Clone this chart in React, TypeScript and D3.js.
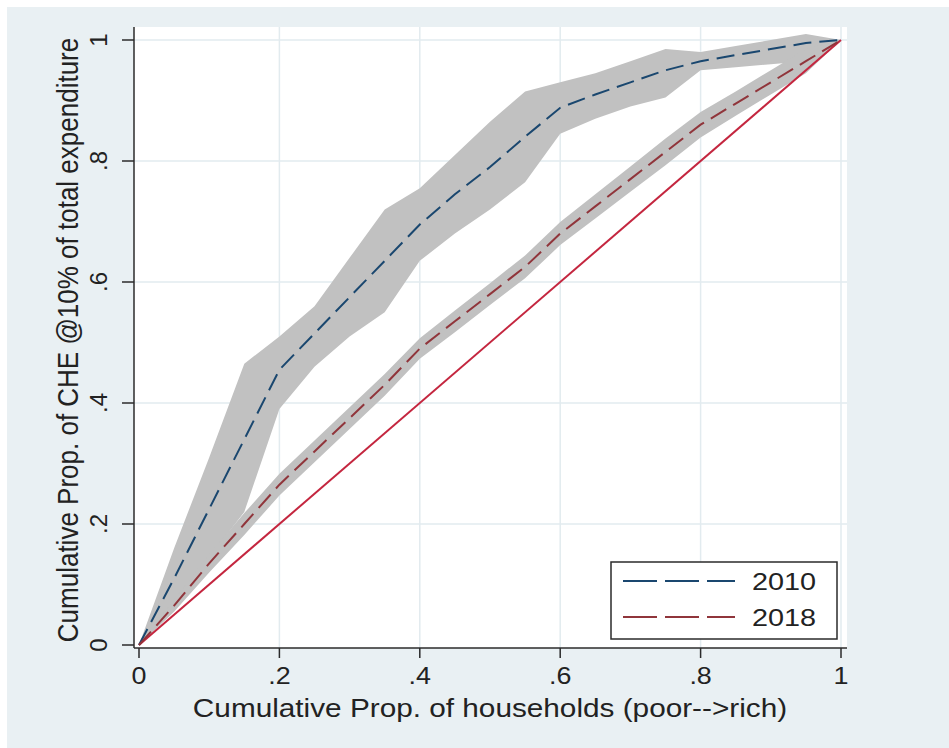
import React from "react";
import * as d3 from "d3";

const xs = [0, 0.05, 0.1, 0.15, 0.2, 0.25, 0.3, 0.35, 0.4, 0.45, 0.5, 0.55, 0.6, 0.65, 0.7, 0.75, 0.8, 0.85, 0.9, 0.95, 1];
const line2010 = [0, 0.11, 0.225, 0.34, 0.455, 0.515, 0.575, 0.635, 0.695, 0.745, 0.79, 0.84, 0.888, 0.91, 0.93, 0.95, 0.965, 0.975, 0.985, 0.995, 1];
const upper2010 = [0, 0.16, 0.31, 0.465, 0.51, 0.56, 0.64, 0.72, 0.755, 0.81, 0.865, 0.915, 0.93, 0.945, 0.965, 0.985, 0.98, 0.99, 1.0, 1.01, 1];
const lower2010 = [0, 0.07, 0.145, 0.22, 0.39, 0.46, 0.51, 0.55, 0.635, 0.68, 0.72, 0.765, 0.845, 0.87, 0.89, 0.905, 0.95, 0.955, 0.96, 0.965, 1];
const line2018 = [0, 0.065, 0.135, 0.2, 0.265, 0.32, 0.375, 0.43, 0.49, 0.535, 0.58, 0.625, 0.68, 0.725, 0.77, 0.815, 0.86, 0.895, 0.93, 0.965, 1];
const upper2018 = [0, 0.075, 0.15, 0.218, 0.283, 0.338, 0.393, 0.448, 0.507, 0.553, 0.598, 0.644, 0.699, 0.745, 0.791, 0.837, 0.881, 0.915, 0.95, 0.985, 1];
const lower2018 = [0, 0.055, 0.12, 0.182, 0.247, 0.302, 0.357, 0.412, 0.473, 0.517, 0.562, 0.606, 0.661, 0.705, 0.749, 0.793, 0.839, 0.875, 0.91, 0.945, 1];
const equality = [0, 1];
const tickValues = [0, 0.2, 0.4, 0.6, 0.8, 1];
const tickLabels = ["0", ".2", ".4", ".6", ".8", "1"];
const legendLabels = ["2010", "2018"];
const xTitle = "Cumulative Prop. of households (poor-->rich)";
const yTitle = "Cumulative Prop. of CHE @10% of total expenditure";

const W = 949;
const H = 748;
const FONT = "'Liberation Sans', Arial, sans-serif";
const NAVY = "#1a476f";
const MAROON = "#90353b";
const DIAG = "#c4263f";
const BAND = "#c1c1c1";
const GRID = "#e2ebef";
const AXIS = "#2b2b2b";
const TEXT = "#222";

export default function App() {
  const x = d3.scaleLinear().domain([0, 1]).range([139, 841]);
  const y = d3.scaleLinear().domain([0, 1]).range([645, 40]);

  const mkArea = (lo: number[], hi: number[]) =>
    d3
      .area<number>()
      .x((d, i) => x(xs[i]))
      .y0((d, i) => y(lo[i]))
      .y1((d, i) => y(hi[i]))(xs);
  const mkLine = (vals: number[]) =>
    d3
      .line<number>()
      .x((d, i) => x(xs[i]))
      .y((d) => y(d))(vals);
  const diag = d3
    .line<number>()
    .x((d) => x(d))
    .y((d) => y(d))(equality);

  const plotL = 134;
  const plotR = 847;
  const plotT = 27;
  const plotB = 648;

  const legendX = 611;
  const legendY = 562;
  const legendW = 226;
  const legendH = 77;
  const colors = [NAVY, MAROON];

  return (
    <svg
      width={W}
      height={H}
      style={{ position: "absolute", left: 0, top: 0 }}
      fontFamily={FONT}
    >
      <rect x={0} y={0} width={W} height={H} fill="#ffffff" />
      <rect x={7} y={7} width={W - 7} height={H - 7} fill="#e9f0f3" />
      <rect x={plotL} y={plotT} width={plotR - plotL} height={plotB - plotT} fill="#ffffff" />
      {/* grid */}
      {tickValues.slice(1).map((t) => (
        <line key={"gx" + t} x1={x(t)} x2={x(t)} y1={plotT} y2={plotB} stroke={GRID} strokeWidth={1.5} />
      ))}
      {tickValues.slice(1).map((t) => (
        <line key={"gy" + t} x1={plotL} x2={plotR} y1={y(t)} y2={y(t)} stroke={GRID} strokeWidth={1.5} />
      ))}
      {/* bands */}
      <path d={mkArea(lower2010, upper2010) || ""} fill={BAND} />
      <path d={mkArea(lower2018, upper2018) || ""} fill={BAND} />
      {/* diagonal */}
      <path d={diag || ""} stroke={DIAG} strokeWidth={2} fill="none" />
      {/* lines */}
      <path d={mkLine(line2010) || ""} stroke={NAVY} strokeWidth={2} fill="none" strokeDasharray="18,8" />
      <path d={mkLine(line2018) || ""} stroke={MAROON} strokeWidth={2} fill="none" strokeDasharray="18,8" />
      {/* axes */}
      <line x1={plotL} x2={plotL} y1={plotT} y2={plotB} stroke={AXIS} strokeWidth={1.5} />
      <line x1={plotL} x2={plotR} y1={plotB} y2={plotB} stroke={AXIS} strokeWidth={1.5} />
      {tickValues.map((t, i) => (
        <g key={"xt" + t}>
          <line x1={x(t)} x2={x(t)} y1={plotB} y2={plotB + 10} stroke={AXIS} strokeWidth={1.5} />
          <text
            transform={`translate(${x(t)},684) scale(1.12,1)`}
            textAnchor="middle"
            fontSize={24}
            fill={TEXT}
          >
            {tickLabels[i]}
          </text>
        </g>
      ))}
      {tickValues.map((t, i) => (
        <g key={"yt" + t}>
          <line x1={plotL - 12} x2={plotL} y1={y(t)} y2={y(t)} stroke={AXIS} strokeWidth={1.5} />
          <text
            transform={`translate(107,${y(t)}) rotate(-90)`}
            textAnchor="middle"
            fontSize={24}
            fill={TEXT}
          >
            {tickLabels[i]}
          </text>
        </g>
      ))}
      <text
        transform="translate(490,717) scale(1.19,1)"
        textAnchor="middle"
        fontSize={25}
        fill={TEXT}
      >
        {xTitle}
      </text>
      <text
        transform="translate(78,340) rotate(-90) scale(1,1.1)"
        textAnchor="middle"
        fontSize={26}
        fill={TEXT}
      >
        {yTitle}
      </text>
      {/* legend */}
      <rect x={legendX} y={legendY} width={legendW} height={legendH} fill="#ffffff" stroke={AXIS} strokeWidth={1.5} />
      {legendLabels.map((lab, i) => (
        <g key={lab}>
          <line
            x1={623}
            x2={735}
            y1={legendY + 19 + i * 36}
            y2={legendY + 19 + i * 36}
            stroke={colors[i]}
            strokeWidth={2}
            strokeDasharray="34,8"
          />
          <text
            transform={`translate(752,${legendY + 19 + i * 36 + 9}) scale(1.2,1)`}
            fontSize={24}
            fill={TEXT}
          >
            {lab}
          </text>
        </g>
      ))}
    </svg>
  );
}
